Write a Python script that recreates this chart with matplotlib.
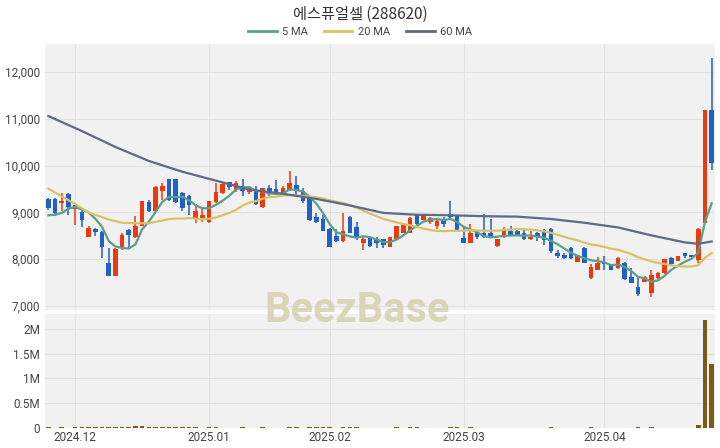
import matplotlib
matplotlib.use('Agg')
import matplotlib.pyplot as plt
from matplotlib.lines import Line2D
import numpy as np
import pandas as pd

title = '에스퓨얼셀 (288620)'

opens = [9280, 9280, 9210, 9400, 9070, 9000, 8480, 8640, 8590, 7910,
         7640, 8260, 8630, 8470, 8710, 9220, 9040, 9450, 9710, 9710,
         9420, 9360, 8870, 8870, 8790, 9220, 9410, 9650, 9490, 9570,
         9440, 9450, 9110, 9520, 9500, 9410, 9480, 9590, 9450, 9300,
         8910, 8850, 8650, 8500, 8380, 8910, 8690, 8340, 8450, 8410,
         8430, 8270, 8430, 8570, 8570, 8940, 8840, 8790, 8700, 8840,
         8970, 8940, 8450, 8350, 8590, 8570, 8570, 8280, 8470, 8610,
         8610, 8550, 8430, 8550, 8630, 8650, 8140, 8100, 8250, 7950,
         8250, 7590, 7780, 7930, 7880, 7810, 7930, 7610, 7410, 7520,
         7280, 7590, 7700, 8020, 7970, 8130, 8090, 7980, 8780, 11190]
highs = [9300, 9300, 9410, 9420, 9160, 9100, 8710, 8670, 8600, 8240,
         8230, 8560, 8650, 8920, 9250, 9260, 9560, 9630, 9720, 9720,
         9430, 9370, 9170, 9090, 9250, 9630, 9640, 9660, 9680, 9710,
         9530, 9560, 9530, 9590, 9690, 9560, 9890, 9780, 9520, 9310,
         8990, 8940, 8660, 8640, 8980, 8920, 8800, 8480, 8460, 8470,
         8440, 8480, 8720, 8750, 8900, 8970, 8950, 8910, 8840, 8900,
         9250, 8950, 8700, 8750, 8600, 8970, 8860, 8440, 8690, 8700,
         8620, 8620, 8600, 8580, 8650, 8660, 8200, 8140, 8260, 8080,
         8260, 7900, 8050, 8060, 7900, 8050, 7940, 7810, 7590, 7650,
         7770, 7720, 8010, 8050, 8070, 8140, 8100, 8660, 11200, 12300]
lows = [9060, 8920, 9040, 8940, 8730, 8690, 8470, 8500, 8030, 7640,
        7640, 8200, 8210, 8460, 8700, 9000, 9030, 9270, 9250, 9210,
        9040, 8940, 8770, 8790, 8780, 9210, 9400, 9470, 9430, 9360,
        9390, 9150, 9100, 9350, 9380, 9380, 9450, 9380, 9200, 8820,
        8780, 8600, 8260, 8370, 8370, 8560, 8420, 8200, 8270, 8230,
        8230, 8260, 8420, 8560, 8560, 8700, 8830, 8760, 8650, 8690,
        8830, 8600, 8340, 8340, 8440, 8460, 8460, 8270, 8460, 8500,
        8490, 8420, 8420, 8380, 8300, 8130, 8030, 8010, 8010, 7940,
        7920, 7580, 7770, 7780, 7760, 7800, 7560, 7490, 7210, 7510,
        7200, 7580, 7690, 7880, 7960, 8020, 8030, 7920, 8770, 9910]
closes = [9090, 8980, 9250, 9120, 9150, 8830, 8660, 8580, 8260, 7640,
          8220, 8510, 8510, 8710, 9240, 9040, 9550, 9570, 9260, 9220,
          9090, 9150, 9040, 8940, 9240, 9440, 9600, 9550, 9620, 9450,
          9490, 9180, 9520, 9390, 9410, 9520, 9630, 9450, 9240, 8830,
          8790, 8610, 8270, 8380, 8610, 8570, 8470, 8430, 8280, 8350,
          8300, 8470, 8710, 8730, 8890, 8760, 8940, 8890, 8820, 8760,
          8910, 8610, 8350, 8550, 8480, 8480, 8480, 8430, 8620, 8520,
          8500, 8430, 8480, 8470, 8420, 8170, 8060, 8030, 8020, 8070,
          7930, 7840, 7930, 7890, 7770, 8020, 7570, 7500, 7260, 7610,
          7660, 7710, 8000, 7900, 8060, 8060, 8040, 8640, 11190, 10050]
volumes = [12000, 9000, 15000, 10000, 20000, 18000, 25000, 15000, 22000, 30000,
           28000, 20000, 15000, 35000, 45000, 15000, 25000, 18000, 20000, 22000,
           15000, 12000, 15000, 8000, 15000, 12000, 10000, 9000, 10000, 12000,
           8000, 10000, 12000, 8000, 9000, 10000, 25000, 15000, 10000, 20000,
           15000, 12000, 18000, 10000, 20000, 15000, 12000, 8000, 10000, 8000,
           8000, 10000, 12000, 10000, 15000, 12000, 8000, 7000, 8000, 9000,
           20000, 12000, 10000, 12000, 8000, 9000, 8000, 7000, 8000, 6000,
           6000, 7000, 6000, 7000, 10000, 18000, 8000, 6000, 8000, 7000,
           9000, 12000, 8000, 6000, 7000, 8000, 10000, 8000, 12000, 8000,
           12000, 7000, 10000, 8000, 7000, 8000, 9000, 70000, 2180000, 1300000]

# closes of the four sessions before the window (for the 5-day average)
pre_closes = [8930, 9050, 8670, 8960]

ma20_early_idx = [0, 4, 6, 9, 11, 13]
ma20_early = [9510, 9180, 9000, 8850, 8780, 8770]

# 60 MA
ma60_idx = [0, 5, 10, 15, 20, 25, 30, 35, 40, 45, 50, 55, 60, 65, 70, 75, 80, 85, 90, 95, 97, 99]
ma60_vals = [11060, 10740, 10400, 10100, 9870, 9680, 9490, 9400, 9290, 9150, 8990, 8950,
             8940, 8920, 8910, 8860, 8780, 8680, 8510, 8360, 8330, 8380]

month_idx = [4, 24, 42, 62, 83]
month_labels = ['2024.12', '2025.01', '2025.02', '2025.03', '2025.04']
price_ticks = [7000, 8000, 9000, 10000, 11000, 12000]
vol_ticks = [0, 500000, 1000000, 1500000, 2000000]
vol_tick_labels = ['0', '0.5M', '1M', '1.5M', '2M']

UP = '#ec3a10'
DOWN = '#2160c4'
C5 = '#5b9e8c'
C20 = '#d9c266'
C60 = '#5e6a86'
BG = '#f1f1f1'
GRID = '#e2e2e2'
VOLC = '#7b5a16'

plt.rcParams['font.family'] = ['Roboto', 'DejaVu Sans']

W, H = 720, 448
fig = plt.figure(figsize=(W / 100, H / 100), dpi=100)
ax = fig.add_axes([45 / W, 1 - 310 / H, 670 / W, 266 / H])
axv = fig.add_axes([45 / W, 1 - 428 / H, 670 / W, 114 / H])

o = np.array(opens, float)
h = np.array(highs, float)
l = np.array(lows, float)
c = np.array(closes, float)
v = np.array(volumes, float)
x = np.arange(len(c))

all_c = pd.Series(pre_closes + closes, dtype=float)
ma5 = all_c.rolling(5).mean().values[len(pre_closes):]
ma20_full = all_c.rolling(20).mean().values[len(pre_closes):]
ok = ~np.isnan(ma20_full)
ma20_x = np.concatenate([np.array(ma20_early_idx), x[ok]])
ma20_y = np.concatenate([np.array(ma20_early, float), ma20_full[ok]])

for a in (ax, axv):
    a.set_facecolor(BG)
    for s in a.spines.values():
        s.set_visible(False)
    a.set_xlim(-0.5, len(c) - 0.5)
    a.set_xticks(month_idx)
    a.grid(True, color=GRID, linewidth=0.8)
    a.set_axisbelow(True)
    a.tick_params(length=0, labelsize=8.5, colors='#444444')

up = c >= o
colors = np.where(up, UP, DOWN)
bottom = np.minimum(o, c)
height = np.maximum(np.abs(c - o), 15)
ax.vlines(x, l, h, colors=colors, linewidth=1.1, zorder=2)
ax.bar(x, height, bottom=bottom, width=0.68, color=colors, zorder=3, linewidth=0)

ax.plot(x, ma5, color=C5, linewidth=1.6, zorder=4)
ax.plot(ma20_x, ma20_y, color=C20, linewidth=1.6, zorder=4)
ax.plot(ma60_idx, ma60_vals, color=C60, linewidth=1.6, zorder=4)

ax.set_ylim(6915, 12600)
ax.set_yticks(price_ticks)
ax.set_yticklabels([f'{t:,}' for t in price_ticks])
ax.set_xticklabels([])

axv.bar(x, v, width=0.68, color=VOLC, zorder=3, linewidth=0)
axv.set_ylim(0, 2300000)
axv.set_yticks(vol_ticks)
axv.set_yticklabels(vol_tick_labels)
axv.set_xticklabels(month_labels)
axv.tick_params(axis='x', pad=2)

fig.text(0.5, 1 - 14 / H, title, ha='center', va='center', fontsize=11,
         color='#333333', family=['Noto Sans CJK KR', 'DejaVu Sans'])
handles = [Line2D([0], [0], color=C5, lw=2),
           Line2D([0], [0], color=C20, lw=2),
           Line2D([0], [0], color=C60, lw=2)]
fig.legend(handles, ['5 MA', '20 MA', '60 MA'], loc='center',
           bbox_to_anchor=(0.5, 1 - 32 / H), ncol=3, frameon=False, fontsize=8,
           handlelength=2.6, handletextpad=0.5, columnspacing=1.4,
           labelcolor='#444444')

fig.text(357 / W, 1 - 310 / H, 'BeezBase', ha='center', va='center', fontsize=30,
         fontweight='bold', color='#d8d1ad', alpha=0.85, zorder=10)

fig.savefig('out.png', dpi=100, facecolor='white')
